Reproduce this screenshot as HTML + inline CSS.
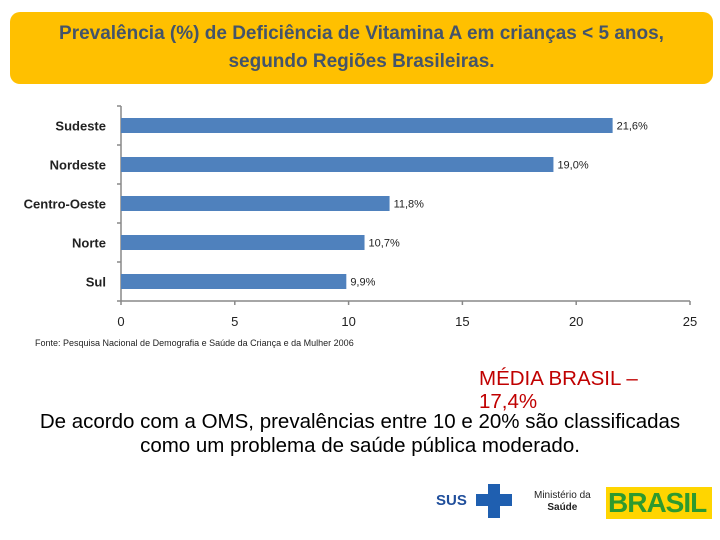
<!DOCTYPE html>
<html><head><meta charset="utf-8"><style>
body{margin:0;width:720px;height:540px;background:#fff;overflow:hidden;font-family:"Liberation Sans",sans-serif;position:relative}
.title{position:absolute;left:10px;top:12px;width:703px;height:72px;background:#FFC000;border-radius:10px;color:#44546A;font-size:19px;font-weight:bold;text-align:center;line-height:28px;box-sizing:border-box;padding-top:8px}
.note{position:absolute;left:0;width:720px;text-align:center;font-size:20.5px;color:#000}
</style></head><body>
<div class="title">Prevalência (%) de Deficiência de Vitamina A em crianças &lt; 5 anos,<br>segundo Regiões Brasileiras.</div>
<svg id="chart" width="720" height="360" style="position:absolute;left:0;top:0"></svg>
<div style="position:absolute;left:479px;top:367px;font-size:20.5px;line-height:23px;color:#C00000">MÉDIA BRASIL –<br>17,4%</div>
<div class="note" style="top:410px;line-height:24px">De acordo com a OMS, prevalências entre 10 e 20% são classificadas<br>como um problema de saúde pública moderado.</div>
<div style="position:absolute;left:436px;top:484px;width:94px;height:34px">
<span style="position:absolute;left:0;top:8px;font-weight:bold;color:#1F4E9B;font-size:15px">SUS</span>
<div style="position:absolute;left:40px;top:10px;width:36px;height:12px;background:#1F5FB0"></div>
<div style="position:absolute;left:52px;top:0;width:12px;height:34px;background:#1F5FB0"></div>
</div>
<div style="position:absolute;left:534px;top:490px;font-size:10px;line-height:12px;color:#222;text-align:center">Ministério da<br><b>Saúde</b></div>
<div style="position:absolute;left:606px;top:487px;width:106px;height:32px;background:#FFD500"><span style="position:absolute;left:2px;top:0;font-size:28px;font-weight:bold;color:#2E9A2E;letter-spacing:-1px">BRASIL</span></div>
<script>
const categories=["Sudeste","Nordeste","Centro-Oeste","Norte","Sul"];
const values=[21.6,19.0,11.8,10.7,9.9];
const labels=["21,6%","19,0%","11,8%","10,7%","9,9%"];
const ticks=[0,5,10,15,20,25];
const svg=document.getElementById('chart');
const NS='http://www.w3.org/2000/svg';
const x0=121,x1=690,yTop=106,yBot=301,xMax=25;
const X=v=>x0+v/xMax*(x1-x0);
const band=(yBot-yTop)/categories.length;
const Y=i=>yTop+band*i+band/2;
function mk(t,a,txt){const e=document.createElementNS(NS,t);for(const k in a)e.setAttribute(k,a[k]);if(txt!=null)e.textContent=txt;svg.appendChild(e);return e;}
let ax=mk('line',{x1:x0,y1:yTop,x2:x0,y2:yBot,stroke:'#888','stroke-width':1.5});

let bx=mk('line',{x1:x0,y1:yBot,x2:x1,y2:yBot,stroke:'#888','stroke-width':1.5});

for(let i=0;i<=categories.length;i++){const y=yTop+band*i;const t=mk('line',{x1:x0-4,y1:y,x2:x0,y2:y,stroke:'#888','stroke-width':1.5});
}
ticks.forEach(v=>{const t=mk('line',{x1:X(v),y1:yBot,x2:X(v),y2:yBot+4,stroke:'#888','stroke-width':1.5});

const l=mk('text',{x:X(v),y:326,'text-anchor':'middle','font-size':13,fill:'#222','font-family':'Liberation Sans'},v);
});
categories.forEach((c,i)=>{const y=Y(i);
const r=mk('rect',{x:x0,y:y-7.5,width:X(values[i])-x0,height:15,fill:'#4F81BD'});

const cl=mk('text',{x:106,y:y+5,'text-anchor':'end','font-size':13,'font-weight':'bold',fill:'#222','font-family':'Liberation Sans'},c);

const vl=mk('text',{x:X(values[i])+4,y:y+4,'font-size':11,fill:'#222','font-family':'Liberation Sans'},labels[i]);
});
const f=mk('text',{x:35,y:346,'font-size':9,fill:'#222','font-family':'Liberation Sans'},'Fonte: Pesquisa Nacional de Demografia e Saúde da Criança e da Mulher 2006');

</script>
</body></html>
